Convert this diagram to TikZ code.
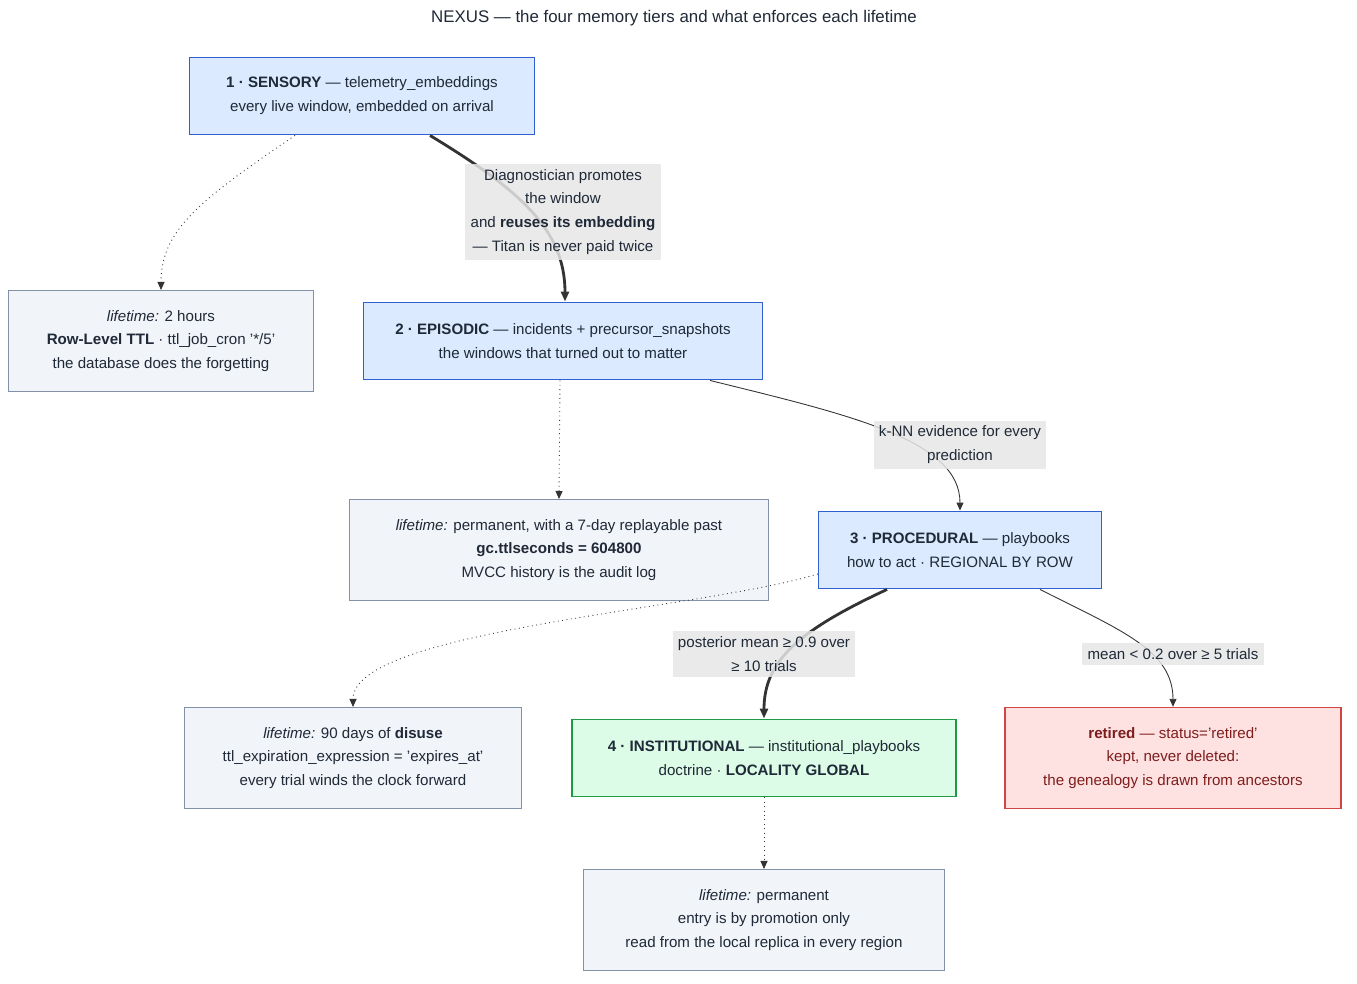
\documentclass[tikz,border=0pt]{standalone}
\usepackage{fontspec}
\setmainfont{Liberation Sans}
\usetikzlibrary{arrows.meta, positioning}
\definecolor{tierblue}{HTML}{DBEAFE}
\definecolor{tierline}{HTML}{2F5FD0}
\definecolor{lifefill}{HTML}{F1F4F9}
\definecolor{lifeline}{HTML}{8290A8}
\definecolor{docfill}{HTML}{DCFCE7}
\definecolor{docline}{HTML}{1E9A45}
\definecolor{retfill}{HTML}{FEE2E2}
\definecolor{retline}{HTML}{D24545}
\definecolor{rettext}{HTML}{7F1D1D}
\definecolor{inktext}{HTML}{1F2937}
\definecolor{lblfill}{HTML}{E6E6E6}

\begin{document}
\begin{tikzpicture}[x=0.02cm, y=-0.02cm,
  font=\fontsize{8.6}{13.6}\selectfont,
  tier/.style={rectangle, draw=tierline, fill=tierblue, line width=0.8pt, align=center, text=inktext, minimum height=1.55cm},
  life/.style={rectangle, draw=lifeline, fill=lifefill, line width=0.6pt, align=center, text=inktext, minimum height=2.02cm},
  doctrine/.style={rectangle, draw=docline, fill=docfill, line width=0.8pt, align=center, text=inktext, minimum height=1.55cm},
  retire/.style={rectangle, draw=retline, fill=retfill, line width=0.8pt, align=center, text=rettext, minimum height=2.02cm},
  lbl/.style={fill=lblfill, fill opacity=0.85, text opacity=1, align=center, text=inktext, inner sep=3pt},
  bold/.style={-{Triangle[length=2mm, width=1.6mm]}, draw=black!80, line width=1.6pt},
  thin/.style={-{Triangle[length=1.6mm, width=1.4mm]}, draw=black!80, line width=0.5pt},
  faint/.style={-{Triangle[length=1.6mm, width=1.4mm]}, draw=black!80, line width=0.5pt, dotted}
]
  \useasboundingbox (0,0) rectangle (1357,984);
  \node[text=inktext, font=\fontsize{9.6}{12}\selectfont] (title) at (674,18) {NEXUS — the four memory tiers and what enforces each lifetime};

  % Tiers
  \node[tier, minimum width=6.9cm] (sensory) at (362,96) {\textbf{1 · SENSORY} — telemetry\_embeddings\\every live window, embedded on arrival};
  \node[tier, minimum width=7.98cm] (episodic) at (563,341) {\textbf{2 · EPISODIC} — incidents + precursor\_snapshots\\the windows that turned out to matter};
  \node[tier, minimum width=5.66cm] (procedural) at (960,550) {\textbf{3 · PROCEDURAL} — playbooks\\how to act · REGIONAL BY ROW};
  \node[doctrine, minimum width=7.68cm] (institutional) at (764,758) {\textbf{4 · INSTITUTIONAL} — institutional\_playbooks\\doctrine · \textbf{LOCALITY GLOBAL}};
  \node[retire, minimum width=6.72cm] (retired) at (1173,758) {\textbf{retired} — status='retired'\\kept, never deleted:\\the genealogy is drawn from ancestors};

  % Lifetimes
  \node[life, minimum width=6.12cm] (lifesens) at (161,341) {\textit{lifetime:} 2 hours\\\textbf{Row-Level TTL} · ttl\_job\_cron '*/5'\\the database does the forgetting};
  \node[life, minimum width=8.4cm] (lifeepi) at (559,550) {\textit{lifetime:} permanent, with a 7-day replayable past\\\textbf{gc.ttlseconds = 604800}\\MVCC history is the audit log};
  \node[life, minimum width=6.76cm] (lifeproc) at (353,758) {\textit{lifetime:} 90 days of \textbf{disuse}\\ttl\_expiration\_expression = 'expires\_at'\\every trial winds the clock forward};
  \node[life, minimum width=7.24cm] (lifeinst) at (764,920) {\textit{lifetime:} permanent\\entry is by promotion only\\read from the local replica in every region};

  % Connectors
  \draw[faint] ([xshift=-1.34cm]sensory.south) .. controls (200,200) and (161,230) .. (lifesens.north);
  \draw[bold] ([xshift=1.36cm]sensory.south) .. controls (520,190) and (565,230) .. ([xshift=0.04cm]episodic.north);
  \node[lbl] (lblpromote) at (563,212) {Diagnostician promotes\\the window\\and \textbf{reuses its embedding}\\— Titan is never paid twice};
  \draw[faint] ([xshift=-0.06cm]episodic.south) -- (lifeepi.north);
  \draw[thin] ([xshift=2.94cm]episodic.south) .. controls (850,415) and (960,440) .. (procedural.north);
  \node[lbl] (lblknn) at (960,445) {k-NN evidence for every\\prediction};
  \draw[faint] ([yshift=-0.48cm]procedural.west) .. controls (700,610) and (353,630) .. (lifeproc.north);
  \draw[bold] ([xshift=-1.46cm]procedural.south) .. controls (800,630) and (764,660) .. (institutional.north);
  \node[lbl] (lblpost) at (764,654) {posterior mean ≥ 0.9 over\\≥ 10 trials};
  \draw[thin] ([xshift=1.6cm]procedural.south) .. controls (1120,630) and (1173,650) .. (retired.north);
  \node[lbl] (lblmean) at (1173,654) {mean < 0.2 over ≥ 5 trials};
  \draw[faint] (institutional.south) -- (lifeinst.north);
\end{tikzpicture}
\end{document}
